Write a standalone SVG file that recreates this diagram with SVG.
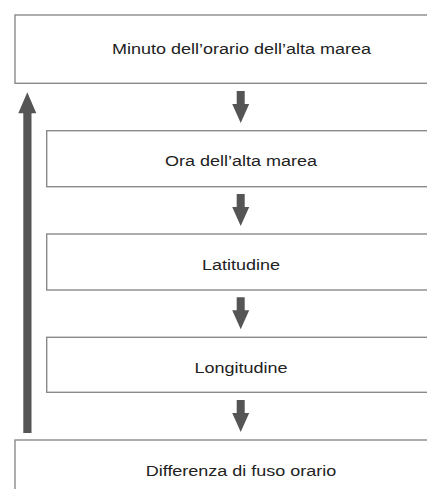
<svg xmlns="http://www.w3.org/2000/svg" xmlns:xlink="http://www.w3.org/1999/xlink" width="427" height="489" viewBox="0 0 427 489">
<style>
.box{fill:#fff;stroke:#8a8a8a;stroke-width:1.4}
.lbl{font-family:"Liberation Sans",Arial,sans-serif;font-size:15px;fill:#222;text-anchor:middle}
.arr{fill:#555}
</style>
<defs>
<path id="down" class="arr" d="M-4,0 H4 V13 H8.5 L0,32 L-8.5,13 H-4 Z"/>
</defs>
<rect width="427" height="489" fill="#fff"/>
<g id="n1"><rect class="box" x="15" y="15" width="430" height="68.3"/><g transform="translate(241.5,54) scale(1.2,1)"><text class="lbl" x="0" y="0">Minuto dell’orario dell’alta marea</text></g></g>
<g id="n2"><rect class="box" x="46.7" y="130.7" width="400" height="56"/><g transform="translate(241,165.7) scale(1.2,1)"><text class="lbl" x="0" y="0">Ora dell’alta marea</text></g></g>
<g id="n3"><rect class="box" x="46.7" y="234" width="400" height="56"/><g transform="translate(241,270) scale(1.2,1)"><text class="lbl" x="0" y="0">Latitudine</text></g></g>
<g id="n4"><rect class="box" x="46.7" y="337.3" width="400" height="55"/><g transform="translate(241,373) scale(1.2,1)"><text class="lbl" x="0" y="0">Longitudine</text></g></g>
<g id="n5"><rect class="box" x="15" y="440" width="430" height="70"/><g transform="translate(241,476) scale(1.2,1)"><text class="lbl" x="0" y="0">Differenza di fuso orario</text></g></g>
<g id="connectors">
<use xlink:href="#down" href="#down" transform="translate(240.7,91)"/>
<use xlink:href="#down" href="#down" transform="translate(240.7,194)"/>
<use xlink:href="#down" href="#down" transform="translate(240.7,297.3)"/>
<use xlink:href="#down" href="#down" transform="translate(240.7,400)"/>
<path class="arr" d="M23.3,433 V113.3 H18.3 L27.3,92.3 L36.3,113.3 H31.5 V433 Z"/>
</g>
</svg>
